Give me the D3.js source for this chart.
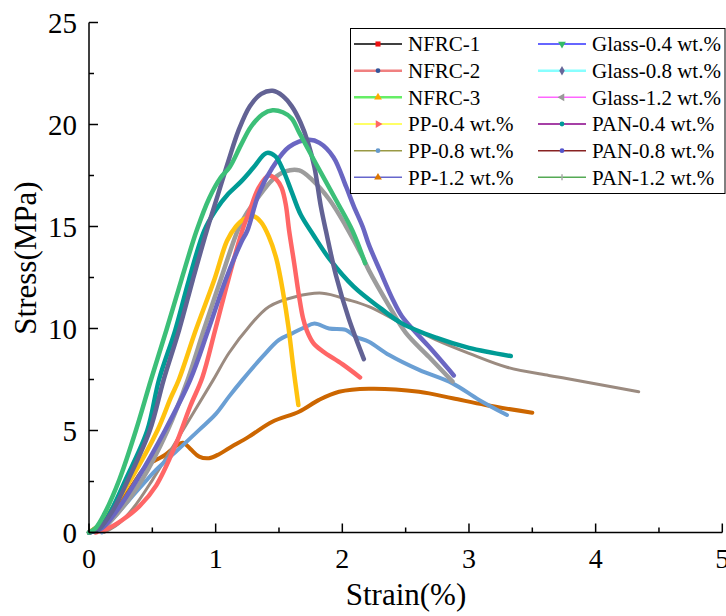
<!DOCTYPE html>
<html>
<head>
<meta charset="utf-8">
<script src="https://cdn.jsdelivr.net/npm/d3@7"></script>
<style>
  body { margin: 0; background: #fff; }
  svg text { font-family: "Liberation Serif", "Times New Roman", serif; fill: #000; }
</style>
</head>
<body>
<div id="chart"></div>
<script>
// strain (%) / stress (MPa) pairs, one array per curve
var curveGreen = [[0,0],[0.05,0.2],[0.12,0.9],[0.24,2.6],[0.37,5.0],[0.49,7.5],[0.61,9.9],[0.73,12.4],[0.85,14.8],[0.95,16.4],[1.04,17.4],[1.11,17.9],[1.2,19.0],[1.28,19.9],[1.37,20.5],[1.45,20.7],[1.53,20.6],[1.6,20.3],[1.66,19.6],[1.79,18.1],[1.95,16.3],[2.08,14.8],[2.18,13.2]];
var curveSlate = [[0,0],[0.08,0.2],[0.18,1.0],[0.31,2.6],[0.48,5.0],[0.59,7.5],[0.71,9.9],[0.82,12.4],[0.93,14.8],[1.02,16.6],[1.1,18.2],[1.18,19.7],[1.27,20.9],[1.36,21.5],[1.45,21.65],[1.53,21.4],[1.6,20.9],[1.67,20.1],[1.73,19.1],[1.78,17.9],[1.83,16.0],[1.87,14.8],[1.95,12.6],[2.05,10.5],[2.17,8.5]];
var curveTeal = [[0,0],[0.08,0.2],[0.16,0.9],[0.29,2.6],[0.46,5.0],[0.553,7.5],[0.68,9.9],[0.79,12.4],[0.91,14.8],[1.0,15.8],[1.1,16.6],[1.2,17.2],[1.3,17.9],[1.4,18.6],[1.47,18.45],[1.53,17.8],[1.6,16.7],[1.67,15.6],[1.77,14.6],[1.9,13.4],[2.09,12.05],[2.3,11.0],[2.47,10.25],[2.74,9.55],[3.0,9.05],[3.33,8.65]];
var curveViolet = [[0,0],[0.1,0.2],[0.2,0.9],[0.38,2.6],[0.6,5.0],[0.8,7.5],[0.94,9.9],[1.08,12.4],[1.2,14.2],[1.25,14.8],[1.34,16.6],[1.45,17.9],[1.58,18.9],[1.737,19.25],[1.82,19.1],[1.93,18.4],[2.03,16.95],[2.09,16.0],[2.16,15.0],[2.21,14.1],[2.3,12.8],[2.4,11.4],[2.47,10.6],[2.58,9.8],[2.685,9.1],[2.88,7.7]];
var curveGrey = [[0,0],[0.1,0.2],[0.22,0.9],[0.42,2.6],[0.62,5.0],[0.78,7.5],[0.905,9.9],[1.04,12.4],[1.18,14.9],[1.25,15.7],[1.32,16.3],[1.45,17.3],[1.55,17.7],[1.66,17.75],[1.76,17.3],[1.9,16.3],[2.03,15.0],[2.16,13.5],[2.21,12.85],[2.37,11.1],[2.5,9.8],[2.685,8.6],[2.87,7.4]];
var curveRed = [[0.05,0],[0.15,0.2],[0.26,0.6],[0.4,1.3],[0.53,2.3],[0.684,4.3],[0.8,6.2],[0.895,7.6],[0.995,9.9],[1.1,12.4],[1.21,14.8],[1.27,15.8],[1.34,16.9],[1.42,17.5],[1.48,17.3],[1.52,16.9],[1.553,16.1],[1.58,14.8],[1.62,13.2],[1.658,11.6],[1.69,10.5],[1.72,9.9],[1.77,9.3],[1.842,8.9],[2.0,8.25],[2.14,7.6]];
var curveYellow = [[0,0],[0.07,0.3],[0.158,0.94],[0.33,2.6],[0.54,5.0],[0.645,6.6],[0.71,7.5],[0.842,9.9],[0.99,12.4],[1.09,14.3],[1.16,15.0],[1.22,15.35],[1.3,15.5],[1.36,15.2],[1.42,14.5],[1.48,13.4],[1.534,11.7],[1.574,10.1],[1.613,8.1],[1.653,6.25]];
var curveTaupe = [[0.12,0],[0.237,0.45],[0.35,1.2],[0.5,2.57],[0.74,5.0],[0.98,7.47],[1.105,8.8],[1.263,10.09],[1.42,11.07],[1.63,11.56],[1.842,11.73],[2.05,11.4],[2.21,11.07],[2.47,10.25],[2.74,9.44],[3.0,8.78],[3.3,8.1],[3.63,7.7],[3.77,7.55],[4.34,6.9]];
var curveBlue = [[0.1,0],[0.158,0.45],[0.316,1.59],[0.46,2.6],[0.527,3.06],[0.71,4.1],[0.868,5.02],[1.0,5.8],[1.105,6.66],[1.21,7.47],[1.37,8.62],[1.5,9.44],[1.6,9.75],[1.7,10.05],[1.78,10.25],[1.895,10.0],[2.027,9.93],[2.105,9.6],[2.21,9.35],[2.37,8.7],[2.606,7.97],[2.87,7.31],[3.08,6.5],[3.3,5.76]];
var curveOrange = [[0,0],[0.158,0.78],[0.316,2.08],[0.447,3.23],[0.527,3.55],[0.6,3.8],[0.68,4.2],[0.74,4.4],[0.8,4.1],[0.87,3.72],[0.947,3.64],[1.03,3.85],[1.105,4.13],[1.263,4.7],[1.447,5.43],[1.658,5.92],[1.816,6.5],[1.974,6.9],[2.21,7.05],[2.606,6.9],[2.87,6.58],[3.13,6.25],[3.5,5.87]];

var legendNames = ["NFRC-1","NFRC-2","NFRC-3","PP-0.4 wt.%","PP-0.8 wt.%","PP-1.2 wt.%",
                   "Glass-0.4 wt.%","Glass-0.8 wt.%","Glass-1.2 wt.%","PAN-0.4 wt.%","PAN-0.8 wt.%","PAN-1.2 wt.%"];
var legendLineColors = ["#000000","#f08080","#66ee66","#ffff33","#999944","#6666cc",
                        "#3333ff","#88ffff","#ff66ff","#880088","#882222","#55aa55"];
var legendMarkColors = ["#ee1111","#335599","#ffaa00","#ff6666","#6699cc","#dd7700",
                        "#33bb66","#666699","#999999","#009999","#5555cc","#aaaaaa"];
var legendMarks = ["square","circle","triangle","right","circle","triangle",
                   "down","diamond","left","circle","circle","tick"];

var xTicks = [0,1,2,3,4,5];
var yTicks = [0,5,10,15,20,25];

var curves = [
  {data: curveOrange, color: "#cc6600", w: 4},
  {data: curveTaupe, color: "#9b8b80", w: 3},
  {data: curveBlue, color: "#6a9fd4", w: 4},
  {data: curveGrey, color: "#9c9c9c", w: 4.5},
  {data: curveYellow, color: "#ffc20e", w: 4.5},
  {data: curveRed, color: "#ff6666", w: 4.5},
  {data: curveViolet, color: "#6a66c2", w: 4.5},
  {data: curveTeal, color: "#009b95", w: 4.5},
  {data: curveSlate, color: "#626294", w: 4.5},
  {data: curveGreen, color: "#3cbf78", w: 4.5}
];

var W = 726, H = 616;
var svg = d3.select("#chart").append("svg").attr("width", W).attr("height", H);

var x = d3.scaleLinear().domain([0, 5]).range([89, 722.3]);
var y = d3.scaleLinear().domain([0, 25]).range([532.5, 22.5]);

var line = d3.line()
  .x(function(d) { return x(d[0]); })
  .y(function(d) { return y(d[1]); })
  .curve(d3.curveCatmullRom.alpha(0.5));

svg.append("g").selectAll("path")
  .data(curves)
  .enter().append("path")
  .attr("d", function(d) { return line(d.data); })
  .attr("fill", "none")
  .attr("stroke", function(d) { return d.color; })
  .attr("stroke-width", function(d) { return d.w; })
  .attr("stroke-linejoin", "round")
  .attr("stroke-linecap", "round");

// axes, ticks pointing inward
var xAxis = svg.append("g").attr("transform", "translate(0," + y(0) + ")");
xAxis.append("line").attr("x1", x(0)).attr("x2", x(5)).attr("stroke", "#000").attr("stroke-width", 1.5);
xAxis.selectAll(".minor").data(d3.range(0.5, 5, 1)).enter().append("line")
  .attr("x1", function(d) { return x(d); }).attr("x2", function(d) { return x(d); })
  .attr("y1", 0).attr("y2", -5).attr("stroke", "#000").attr("stroke-width", 1.5);
xAxis.selectAll(".major").data(xTicks).enter().append("line")
  .attr("x1", function(d) { return x(d); }).attr("x2", function(d) { return x(d); })
  .attr("y1", 0).attr("y2", -9).attr("stroke", "#000").attr("stroke-width", 1.5);
xAxis.selectAll("text").data(xTicks).enter().append("text")
  .attr("x", function(d) { return x(d); }).attr("y", 35)
  .attr("text-anchor", "middle").style("font-size", "28px")
  .text(function(d) { return d; });

var yAxis = svg.append("g").attr("transform", "translate(" + x(0) + ",0)");
yAxis.append("line").attr("y1", y(0)).attr("y2", y(25)).attr("stroke", "#000").attr("stroke-width", 1.5);
yAxis.selectAll(".minor").data(d3.range(2.5, 25, 5)).enter().append("line")
  .attr("y1", function(d) { return y(d); }).attr("y2", function(d) { return y(d); })
  .attr("x1", 0).attr("x2", 5).attr("stroke", "#000").attr("stroke-width", 1.5);
yAxis.selectAll(".major").data(yTicks).enter().append("line")
  .attr("y1", function(d) { return y(d); }).attr("y2", function(d) { return y(d); })
  .attr("x1", 0).attr("x2", 9).attr("stroke", "#000").attr("stroke-width", 1.5);
yAxis.selectAll("text").data(yTicks).enter().append("text")
  .attr("x", -12).attr("y", function(d) { return y(d); })
  .attr("dy", "0.35em").attr("text-anchor", "end").style("font-size", "29px")
  .text(function(d) { return d; });

svg.append("text").attr("x", 406).attr("y", 605).attr("text-anchor", "middle")
  .style("font-size", "31px").text("Strain(%)");
svg.append("text").attr("transform", "translate(36,258) rotate(-90)")
  .attr("text-anchor", "middle").style("font-size", "31px").text("Stress(MPa)");

// legend
var lg = svg.append("g");
lg.append("rect").attr("x", 350.5).attr("y", 28.5).attr("width", 374.5).attr("height", 165)
  .attr("fill", "#fff").attr("stroke", "#000").attr("stroke-width", 1);

var shapes = {
  square: d3.symbolSquare, circle: d3.symbolCircle, triangle: d3.symbolTriangle,
  right: d3.symbolTriangle, down: d3.symbolTriangle, left: d3.symbolTriangle,
  diamond: d3.symbolDiamond
};
var rot = { right: 90, down: 180, left: -90 };

legendNames.forEach(function(name, i) {
  var col = Math.floor(i / 6), row = i % 6;
  var x0 = col ? 538 : 354, ty = 44 + row * 26.67;
  var g = lg.append("g");
  g.append("line").attr("x1", x0).attr("x2", x0 + 48).attr("y1", ty).attr("y2", ty)
    .attr("stroke", legendLineColors[i]).attr("stroke-width", i == 2 || i == 7 || i == 1 ? 2.5 : 1.5);
  var cx = x0 + 24;
  if (legendMarks[i] == "tick") {
    g.append("line").attr("x1", cx).attr("x2", cx).attr("y1", ty - 3).attr("y2", ty + 3)
      .attr("stroke", legendMarkColors[i]).attr("stroke-width", 1.5);
  } else {
    g.append("path")
      .attr("d", d3.symbol().type(shapes[legendMarks[i]]).size(legendMarks[i] == "circle" ? 18 : 26)())
      .attr("transform", "translate(" + cx + "," + ty + ") rotate(" + (rot[legendMarks[i]] || 0) + ")")
      .attr("fill", legendMarkColors[i]);
  }
  g.append("text").attr("x", x0 + 54).attr("y", ty).attr("dy", "0.35em")
    .style("font-size", "21px").text(name);
});
</script>
</body>
</html>
